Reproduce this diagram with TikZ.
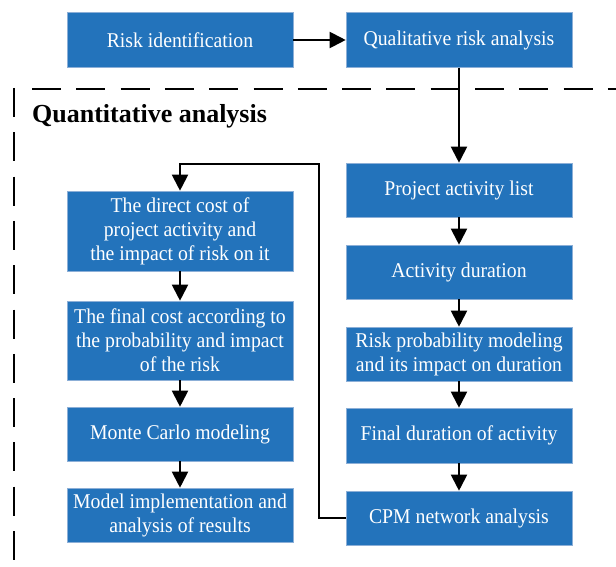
\documentclass[tikz,border=0pt]{standalone}
\usepackage{fontspec}
\setmainfont{Liberation Serif}
\newfontfamily\boxfont[FakeStretch=0.94]{Liberation Serif}
\usetikzlibrary{arrows.meta}
\definecolor{boxblue}{RGB}{35,115,187}
\definecolor{boxedge}{RGB}{140,175,215}
\tikzset{
  x=1pt, y=-1pt,
  flowbox/.style={draw=boxedge, line width=0.6pt, fill=boxblue, text=white,
    minimum width=226pt, align=center, inner sep=2pt,
    font=\boxfont\fontsize{21}{24}\selectfont},
  conn/.style={line width=2pt, -{Triangle[length=16pt,width=16pt]}},
  frame/.style={line width=1.2pt, dash pattern=on 29pt off 15.3pt}
}
\begin{document}
\begin{tikzpicture}
\useasboundingbox (0,0) rectangle (616,567);
\clip (0,0) rectangle (616,567);
% dashed frame
\draw[frame] (14,88) -- (14,600);
\draw[frame] (32,89) -- (640,89);
\node[anchor=base west, font=\fontsize{26}{30}\selectfont\bfseries, inner sep=0pt] (title) at (32,123) {Quantitative analysis};
% top row
\node[flowbox, minimum height=54.5pt] (risk) at (180,40) {Risk identification};
\node[flowbox, minimum height=54.5pt] (qual) at (459,40) {Qualitative risk analysis};
% right column
\node[flowbox, minimum height=54pt] (pal) at (459,190) {Project activity list};
\node[flowbox, minimum height=54pt] (dur) at (459,272) {Activity duration};
\node[flowbox, minimum height=54pt] (rpm) at (459,354) {Risk probability modeling\\and its impact on duration};
\node[flowbox, minimum height=55pt] (fin) at (459,435.5) {Final duration of activity};
\node[flowbox, minimum height=54pt] (cpm) at (459,518) {CPM network analysis};
% left column
\node[flowbox, minimum height=80pt] (dc) at (180,231) {The direct cost of\\project activity and\\the impact of risk on it};
\node[flowbox, minimum height=79pt] (fc) at (180,340.5) {The final cost according to\\the probability and impact\\of the risk};
\node[flowbox, minimum height=54pt] (mc) at (180,434) {Monte Carlo modeling};
\node[flowbox, minimum height=54pt] (mi) at (180,515) {Model implementation and\\analysis of results};
% connectors
\draw[conn] (risk) -- (qual);
\draw[conn] (qual) -- (pal);
\draw[conn] (pal) -- (dur);
\draw[conn] (dur) -- (rpm);
\draw[conn] (rpm) -- (fin);
\draw[conn] (fin) -- (cpm);
\coordinate (fbb) at (319,518);
\coordinate (fbt) at (319,164);
\coordinate (fbl) at (180,164);
\draw[conn] (cpm.west) -- (fbb) -- (fbt) -- (fbl) -- (dc.north);
\draw[conn] (dc) -- (fc);
\draw[conn] (fc) -- (mc);
\draw[conn] (mc) -- (mi);
\end{tikzpicture}
\end{document}
